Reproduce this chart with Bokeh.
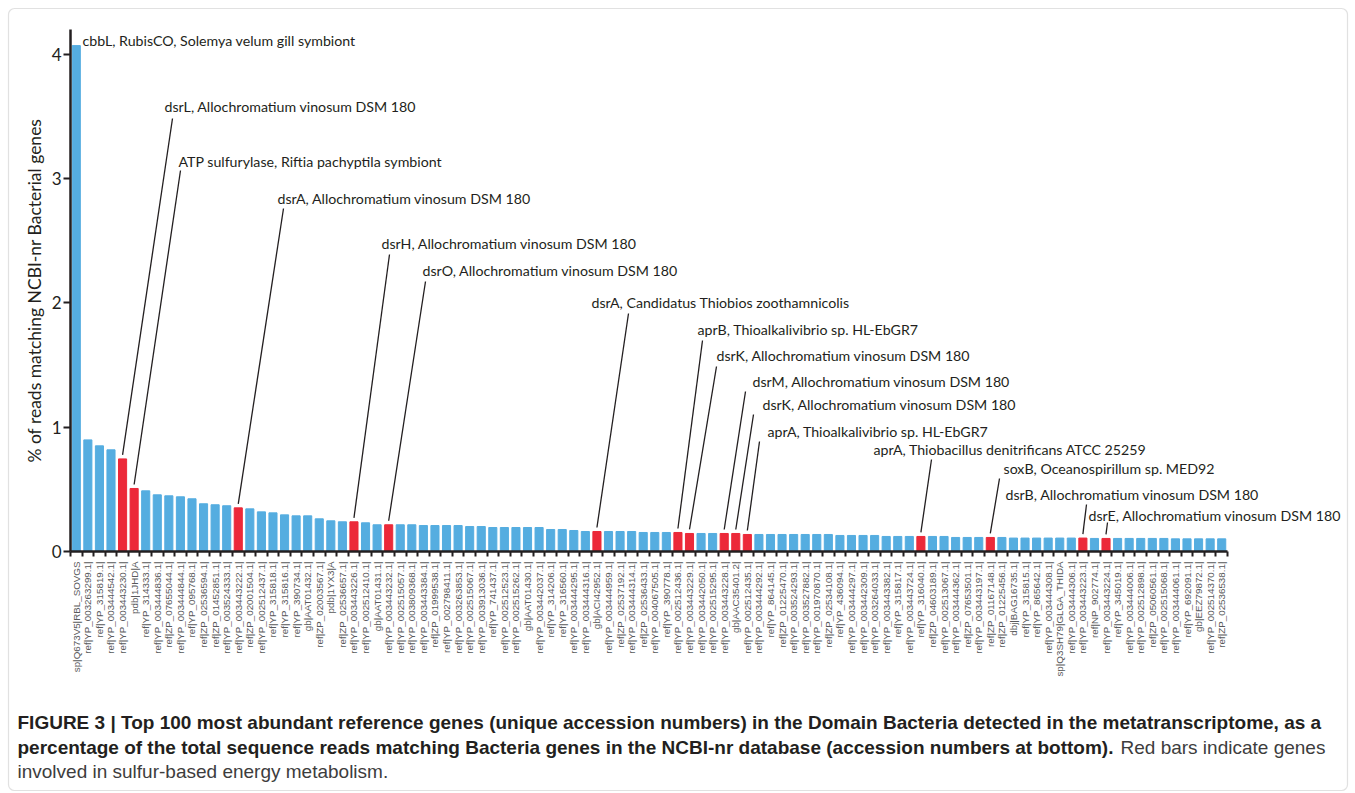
import math
from bokeh.plotting import figure
from bokeh.models import ColumnDataSource, FixedTicker, LabelSet, Label, BoxAnnotation
from bokeh.core.properties import value
from bokeh.embed import file_html
from bokeh.resources import INLINE

# ---------------- data ----------------
accessions = [
    "sp|Q673V5|RBL_SOVGS", "ref|YP_003263299.1|", "ref|YP_315819.1|", "ref|YP_003444542.1|", "ref|YP_003443230.1|",
    "pdb|1JHD|A", "ref|YP_314333.1|", "ref|YP_003444836.1|", "ref|ZP_07655044.1|", "ref|YP_003444844.1|",
    "ref|YP_095768.1|", "ref|ZP_02536594.1|", "ref|ZP_01452851.1|", "ref|YP_003524333.1|", "ref|YP_003443222.1|",
    "ref|ZP_02001504.1|", "ref|YP_002512437.1|", "ref|YP_315818.1|", "ref|YP_315816.1|", "ref|YP_390734.1|",
    "gb|AAT01432.1|", "ref|ZP_02003567.1|", "pdb|1YX3|A", "ref|ZP_02536657.1|", "ref|YP_003443226.1|",
    "ref|YP_002512410.1|", "gb|AAT01431.1|", "ref|YP_003443232.1|", "ref|YP_002515057.1|", "ref|YP_003809368.1|",
    "ref|YP_003443384.1|", "ref|ZP_01999538.1|", "ref|YP_002798411.1|", "ref|YP_003263853.1|", "ref|YP_002515067.1|",
    "ref|YP_003913036.1|", "ref|YP_741437.1|", "ref|YP_002512523.1|", "ref|YP_002515262.1|", "gb|AAT01430.1|",
    "ref|YP_003442037.1|", "ref|YP_314206.1|", "ref|YP_316560.1|", "ref|YP_003444295.1|", "ref|YP_003444316.1|",
    "gb|ACI42952.1|", "ref|YP_003444959.1|", "ref|ZP_02537192.1|", "ref|YP_003444314.1|", "ref|ZP_02536433.1|",
    "ref|YP_004067505.1|", "ref|YP_390778.1|", "ref|YP_002512436.1|", "ref|YP_003443229.1|", "ref|YP_003442050.1|",
    "ref|YP_002515295.1|", "ref|YP_003443228.1|", "gb|AAC35401.2|", "ref|YP_002512435.1|", "ref|YP_003444292.1|",
    "ref|YP_864145.1|", "ref|ZP_01225470.1|", "ref|YP_003524293.1|", "ref|YP_003527882.1|", "ref|YP_001970870.1|",
    "ref|ZP_02534108.1|", "ref|YP_436094.1|", "ref|YP_003444297.1|", "ref|YP_003442309.1|", "ref|YP_003264033.1|",
    "ref|YP_003443382.1|", "ref|YP_315817.1|", "ref|YP_003443724.1|", "ref|YP_316040.1|", "ref|ZP_04603189.1|",
    "ref|YP_002513067.1|", "ref|YP_003444362.1|", "ref|ZP_07653501.1|", "ref|YP_003443197.1|", "ref|ZP_01167148.1|",
    "ref|ZP_01225456.1|", "dbj|BAG16735.1|", "ref|YP_315815.1|", "ref|YP_865642.1|", "ref|YP_003444308.1|",
    "sp|Q3SH79|GLGA_THIDA", "ref|YP_003444306.1|", "ref|YP_003443223.1|", "ref|NP_902774.1|", "ref|YP_003443224.1|",
    "ref|YP_345019.1|", "ref|YP_003444006.1|", "ref|YP_002512898.1|", "ref|ZP_05060561.1|", "ref|YP_002515068.1|",
    "ref|YP_003444061.1|", "ref|YP_692091.1|", "gb|EEZ79872.1|", "ref|YP_002514370.1|", "ref|ZP_02536538.1|",
]

pct_reads = [
    4.07, 0.898, 0.850, 0.818, 0.745, 0.507, 0.488, 0.456, 0.448, 0.440,
    0.424, 0.384, 0.376, 0.368, 0.351, 0.343, 0.319, 0.311, 0.295, 0.287,
    0.287, 0.263, 0.247, 0.239, 0.239, 0.231, 0.215, 0.215, 0.215, 0.215,
    0.209, 0.209, 0.209, 0.209, 0.201, 0.201, 0.193, 0.193, 0.193, 0.193,
    0.193, 0.177, 0.177, 0.169, 0.161, 0.161, 0.161, 0.161, 0.161, 0.153,
    0.153, 0.153, 0.153, 0.145, 0.145, 0.145, 0.145, 0.145, 0.137, 0.137,
    0.137, 0.137, 0.137, 0.137, 0.137, 0.137, 0.129, 0.129, 0.129, 0.129,
    0.121, 0.121, 0.121, 0.121, 0.121, 0.121, 0.113, 0.113, 0.113, 0.113,
    0.113, 0.108, 0.108, 0.108, 0.108, 0.108, 0.108, 0.108, 0.105, 0.105,
    0.105, 0.105, 0.105, 0.105, 0.105, 0.102, 0.102, 0.102, 0.102, 0.102,
]

y_ticks = [0, 1, 2, 3, 4]

# annotated genes (accession -> description)
annot_accession = [
    "sp|Q673V5|RBL_SOVGS", "ref|YP_003443230.1|", "pdb|1JHD|A", "ref|YP_003443222.1|",
    "ref|YP_003443226.1|", "ref|YP_003443232.1|", "gb|ACI42952.1|", "ref|YP_002512436.1|",
    "ref|YP_003443229.1|", "ref|YP_003443228.1|", "gb|AAC35401.2|", "ref|YP_002512435.1|",
    "ref|YP_316040.1|", "ref|ZP_01167148.1|", "ref|YP_003443223.1|", "ref|YP_003443224.1|",
]
annot_gene = [
    "cbbL, RubisCO, Solemya velum gill symbiont",
    "dsrL, Allochromatium vinosum DSM 180",
    "ATP sulfurylase, Riftia pachyptila symbiont",
    "dsrA, Allochromatium vinosum DSM 180",
    "dsrH, Allochromatium vinosum DSM 180",
    "dsrO, Allochromatium vinosum DSM 180",
    "dsrA, Candidatus Thiobios zoothamnicolis",
    "aprB, Thioalkalivibrio sp. HL-EbGR7",
    "dsrK, Allochromatium vinosum DSM 180",
    "dsrM, Allochromatium vinosum DSM 180",
    "dsrK, Allochromatium vinosum DSM 180",
    "aprA, Thioalkalivibrio sp. HL-EbGR7",
    "aprA, Thiobacillus denitrificans ATCC 25259",
    "soxB, Oceanospirillum sp. MED92",
    "dsrB, Allochromatium vinosum DSM 180",
    "dsrE, Allochromatium vinosum DSM 180",
]
# genes involved in sulfur-based energy metabolism (red bars)
sulfur_accessions = annot_accession[1:]

# ---------------- layout (page pixels) ----------------
W, H = 1355, 793
AXIS_L, AXIS_B = 70.0, 551.0      # page px of x=0.5 and y=0
PX_PER_X = 11.57
PX_PER_Y = 124.3
X0 = 0.5


def px_x(px):
    return X0 + (px - AXIS_L) / PX_PER_X


def px_y(py):
    return (AXIS_B - py) / PX_PER_Y


# label anchor (left, middle) and leader start, page px
label_px = [(82, 40), (164, 106), (178, 161), (277, 198), (381, 243), (422, 270),
            (591, 302), (697, 329), (716, 355), (752, 381), (762, 404), (767, 431),
            (873, 449), (1003, 468), (1005, 494), (1088, 515)]
leader_px = [None, (172, 118), (180, 170), (283, 208), (389, 254), (425, 281),
             (628, 313), (702, 340), (716, 366), (745, 391), (753, 414), (759, 441),
             (931, 459), (999, 478), (1086, 504), (1107, 522)]
GAP = 4.0 / PX_PER_Y

BLUE = "#55ade0"
RED = "#ec2939"
INK = "#231f20"

positions = list(range(1, len(accessions) + 1))
colors = [RED if a in sulfur_accessions else BLUE for a in accessions]

bars = ColumnDataSource(dict(x=positions, top=pct_reads, color=colors, acc=accessions))

p = figure(width=W, height=H,
           x_range=(px_x(0), px_x(W)), y_range=(px_y(H), px_y(0)),
           output_backend="svg", toolbar_location=None,
           min_border=0, min_border_left=0, min_border_right=0,
           min_border_top=0, min_border_bottom=0)
p.xgrid.visible = False
p.ygrid.visible = False
p.outline_line_color = None
p.background_fill_color = "white"
p.border_fill_color = "white"

# outer figure box
p.add_layout(BoxAnnotation(left=px_x(8), right=px_x(1347), top=px_y(8), bottom=px_y(790),
                           fill_color=None, line_color="#9a9a9a", line_width=1.2,
                           border_radius=6, level="underlay"))

p.vbar(x="x", top="top", width=0.7, color="color", source=bars)

# leader lines from label to bar tops
seg_x0, seg_y0, seg_x1, seg_y1 = [], [], [], []
lab_x, lab_y = [], []
for acc, lp, ld in zip(annot_accession, label_px, leader_px):
    i = accessions.index(acc)
    lab_x.append(px_x(lp[0]))
    lab_y.append(px_y(lp[1]))
    if ld is not None:
        seg_x0.append(px_x(ld[0]))
        seg_y0.append(px_y(ld[1]))
        seg_x1.append(positions[i])
        seg_y1.append(pct_reads[i] + GAP)

p.segment(x0=seg_x0, y0=seg_y0, x1=seg_x1, y1=seg_y1, line_color=INK, line_width=1.3)

lab_src = ColumnDataSource(dict(x=lab_x, y=lab_y, text=annot_gene))
p.add_layout(LabelSet(x="x", y="y", text="text", source=lab_src,
                      text_font=value("Lato"), text_font_size="14.2px",
                      text_color=INK, text_baseline="middle", text_align="left"))

# axes (drawn at fixed locations inside the full-size frame)
xa = p.xaxis[0]
xa.fixed_location = 0
xa.bounds = (0.5, 100.5)
xa.ticker = FixedTicker(ticks=positions, minor_ticks=[x - 0.5 for x in positions] + [positions[-1] + 0.5])
xa.major_label_overrides = {x: a for x, a in zip(positions, accessions)}
xa.major_label_orientation = math.pi / 2
xa.major_tick_line_color = None
xa.major_tick_out = 0
xa.major_tick_in = 0
xa.minor_tick_line_color = INK
xa.minor_tick_line_width = 2
xa.minor_tick_out = 5
xa.minor_tick_in = 0
xa.axis_line_color = INK
xa.axis_line_width = 2.5
xa.major_label_text_font = "Liberation Sans"
xa.major_label_text_font_size = "9.8px"
xa.major_label_text_color = "#58595b"
xa.major_label_standoff = 5

ya = p.yaxis[0]
ya.fixed_location = 0.5
ya.bounds = (0, 4.2)
ya.ticker = FixedTicker(ticks=y_ticks)
ya.minor_tick_line_color = None
ya.major_tick_out = 7
ya.major_tick_in = 0
ya.major_tick_line_width = 2
ya.major_tick_line_color = INK
ya.axis_line_color = INK
ya.axis_line_width = 2.5
ya.major_label_text_font = "Lato"
ya.major_label_text_font_size = "17px"
ya.major_label_text_color = INK
ya.major_label_standoff = 2
ya.axis_label = "% of reads matching NCBI-nr Bacterial genes"
ya.axis_label_text_font = "Lato"
ya.axis_label_text_font_size = "17.5px"
ya.axis_label_text_font_style = "normal"
ya.axis_label_text_color = INK
ya.axis_label_standoff = 4

# caption
cap1 = "FIGURE 3 | Top 100 most abundant reference genes (unique accession numbers) in the Domain Bacteria detected in the metatranscriptome, as a"
cap2b = "percentage of the total sequence reads matching Bacteria genes in the NCBI-nr database (accession numbers at bottom)."
cap2n = "Red bars indicate genes"
cap3 = "involved in sulfur-based energy metabolism."

for txt, (px, py), bold in [(cap1, (17, 722), True), (cap2b, (17, 747), True),
                            (cap2n, (1120, 747), False), (cap3, (17, 771), False)]:
    p.add_layout(Label(x=px_x(px), y=px_y(py), text=txt,
                       text_font="Liberation Sans",
                       text_font_style="bold" if bold else "normal",
                       text_font_size="19px",
                       text_color=INK if bold else "#3d3d3d",
                       text_baseline="middle", text_align="left"))

open("out.html", "w").write(file_html(p, INLINE))
